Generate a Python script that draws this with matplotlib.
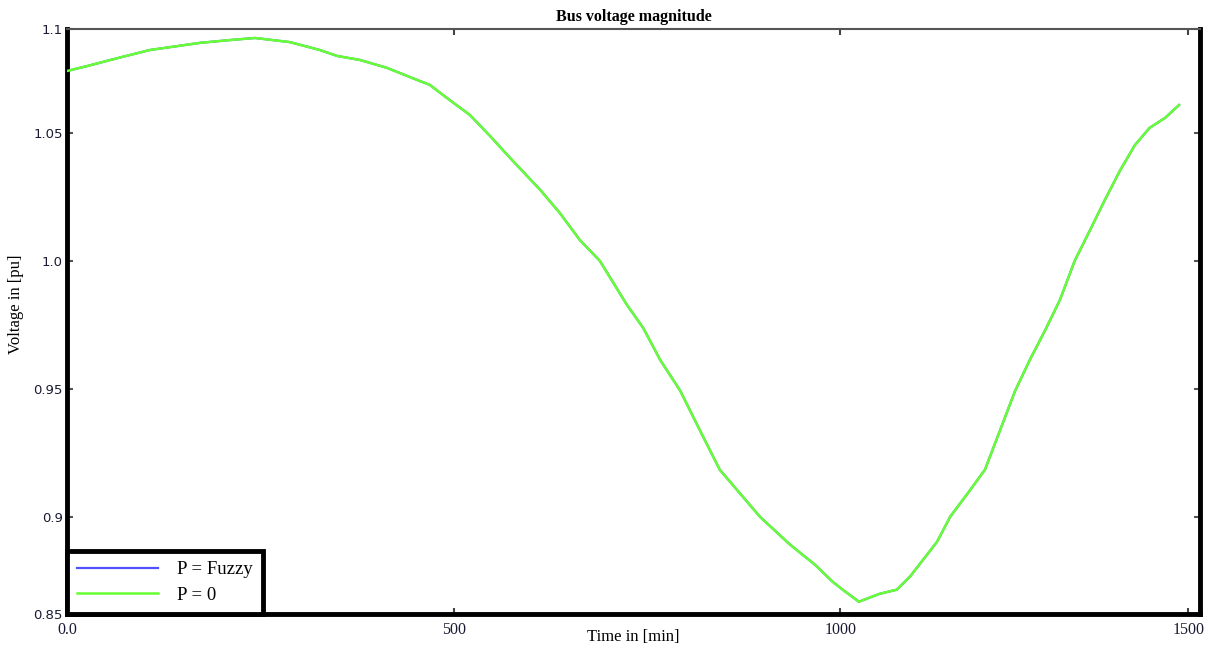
import numpy as np
import matplotlib
matplotlib.use('Agg')
from matplotlib import pyplot as plt

# time in minutes, voltage in pu
time_min = [0, 27, 56, 82, 107, 135, 172, 211, 243, 288, 327, 349, 379, 414, 456, 469,
            491, 521, 547, 573, 612, 637, 663, 689, 724, 745, 767, 793, 818, 844, 896,
            935, 967, 990, 1003, 1024, 1051, 1073, 1090, 1107, 1125, 1142, 1168, 1187,
            1226, 1245, 1265, 1284, 1303, 1323, 1342, 1362, 1381, 1400, 1420, 1438]
v_zero = [1.0742, 1.0762, 1.0785, 1.0805, 1.0824, 1.0836, 1.0852, 1.0863, 1.0871, 1.0855,
          1.0824, 1.0801, 1.0785, 1.0754, 1.0703, 1.0688, 1.0637, 1.0570, 1.0488, 1.0402,
          1.0277, 1.0188, 1.0082, 1.0, 0.9828, 0.9738, 0.9613, 0.9492, 0.9340, 0.9184,
          0.9, 0.8891, 0.8813, 0.8746, 0.8715, 0.8668, 0.8699, 0.8715, 0.8766, 0.8832,
          0.8902, 0.9, 0.9105, 0.9184, 0.9492, 0.9613, 0.9730, 0.9848, 1.0, 1.0121,
          1.0238, 1.0355, 1.0453, 1.0520, 1.0559, 1.0609]
v_fuzzy = list(v_zero)

y_ticks = [0.9, 0.95, 1.0, 1.05]
y_lim = (0.862, 1.0906)
x_ticks = [0, 500, 1000]
x_lim = (0, 1465)

plt.rcParams['font.family'] = ['Liberation Serif', 'DejaVu Serif']

fig = plt.figure(figsize=(12.1, 6.48), dpi=100)
ax = fig.add_axes([0.0554, 0.0525, 0.9363, 0.9027])

ax.plot(time_min, v_fuzzy, color='#5050ff', lw=1.6, label='P = Fuzzy', zorder=2)
ax.plot(time_min, v_zero, color='#66ff33', lw=1.8, label='P = 0', zorder=3)

ax.set_xlim(x_lim)
ax.set_ylim(y_lim)
ax.set_yticks([y_lim[0]] + y_ticks + [y_lim[1]])
ax.set_yticklabels(['0.85', '0.9', '0.95', '1.0', '1.05', '1.1'],
                   family='DejaVu Sans', fontsize=9.5, color='#1a1a33')
ax.set_xticks(x_ticks + [1450])
ax.set_xticklabels(['0.0', '500', '1000', '1500'], fontsize=11.5, color='#1a1a33')
ax.tick_params(axis='y', direction='in', length=4, width=1.5, color='#555555',
               right=True, pad=3)
ax.tick_params(axis='x', direction='in', length=4, width=1.5, color='#444444',
               top=True, pad=6)

for s in ['left', 'bottom', 'right']:
    ax.spines[s].set_linewidth(3.5)
    ax.spines[s].set_color('black')
ax.spines['top'].set_linewidth(1.5)
ax.spines['top'].set_color('#555555')

ax.set_title('Bus voltage magnitude', fontsize=11.5, fontweight='bold', pad=6)
ax.set_xlabel('Time in [min]', fontsize=12)
ax.xaxis.set_label_coords(0.5, -0.025)
ax.set_ylabel('Voltage in [pu]', fontsize=12)
ax.yaxis.set_label_coords(-0.038, 0.53)

leg = ax.legend(loc='lower left', fontsize=13.5, borderaxespad=0, fancybox=False,
                framealpha=1, handlelength=4.3, handletextpad=1.0,
                borderpad=0.55, labelspacing=0.45)
leg.get_frame().set_edgecolor('black')
leg.get_frame().set_linewidth(3.5)

plt.savefig('out.png', dpi=100)
